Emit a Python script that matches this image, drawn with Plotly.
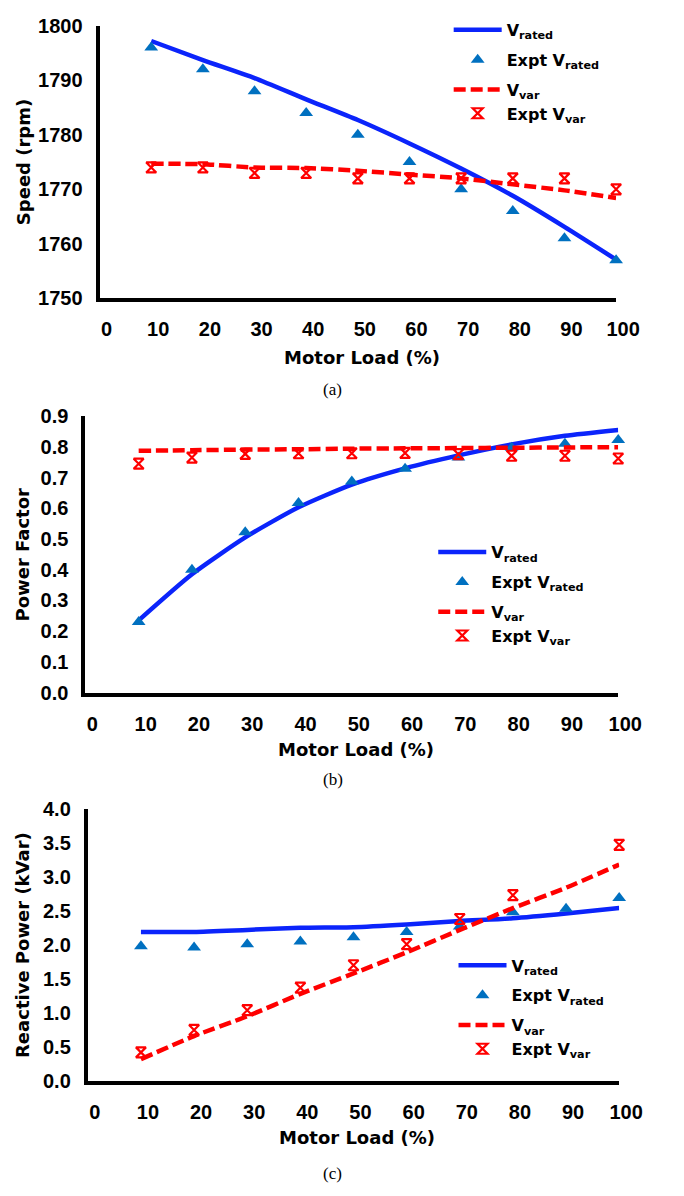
import plotly.graph_objects as go

# Motor load (%) at each test point
load = [10, 20, 30, 40, 50, 60, 70, 80, 90, 100]

# (a) Speed (rpm)
speed_vrated = [1797.2, 1793.7, 1790.4, 1786.5, 1782.7, 1778.4, 1773.8, 1768.8, 1763.1, 1757.1]
speed_expt_vrated = [1796, 1792, 1788, 1784, 1780, 1775, 1770, 1766, 1761, 1757]
speed_vvar = [1774.7, 1774.6, 1774.0, 1773.9, 1773.4, 1772.7, 1772.0, 1770.9, 1769.8, 1768.4]
speed_expt_vvar = [1774, 1774, 1773, 1773, 1772, 1772, 1772, 1772, 1772, 1770]

# (b) Power factor
pf_vrated = [0.235, 0.385, 0.505, 0.603, 0.677, 0.730, 0.772, 0.808, 0.836, 0.855]
pf_expt_vrated = [0.23, 0.40, 0.522, 0.617, 0.687, 0.729, 0.765, 0.797, 0.810, 0.822]
pf_vvar = [0.787, 0.789, 0.791, 0.792, 0.794, 0.795, 0.796, 0.797, 0.798, 0.799]
pf_expt_vvar = [0.745, 0.765, 0.777, 0.779, 0.779, 0.780, 0.776, 0.771, 0.771, 0.762]

# (c) Reactive power (kVar)
q_vrated = [2.19, 2.19, 2.22, 2.25, 2.26, 2.30, 2.35, 2.39, 2.46, 2.54]
q_expt_vrated = [1.98, 1.96, 2.01, 2.05, 2.11, 2.19, 2.27, 2.48, 2.53, 2.69]
q_vvar = [0.32, 0.66, 0.95, 1.28, 1.58, 1.89, 2.22, 2.54, 2.84, 3.18]
q_expt_vvar = [0.42, 0.75, 1.04, 1.37, 1.70, 2.01, 2.38, 2.73, None, 3.47]

x_ticks = list(range(0, 101, 10))

BLUE_LINE = "#0B24FB"
BLUE_MARK = "#0070C0"
RED = "#FF0000"

W, H = 684, 1196


def fx(px):
    return px / W


def fy(py):
    return 1 - py / H


fig = go.Figure()

panels = [
    ("x", "y", "legend", speed_vrated, speed_expt_vrated, speed_vvar, speed_expt_vvar),
    ("x2", "y2", "legend2", pf_vrated, pf_expt_vrated, pf_vvar, pf_expt_vvar),
    ("x3", "y3", "legend3", q_vrated, q_expt_vrated, q_vvar, q_expt_vvar),
]

for xa, ya, lg, v_rated, e_rated, v_var, e_var in panels:
    fig.add_trace(go.Scatter(
        x=load, y=v_rated, mode="lines", name="V<sub>rated</sub>",
        line=dict(color=BLUE_LINE, width=4.5, shape="spline", smoothing=0.6),
        xaxis=xa, yaxis=ya, legend=lg, legendgroup=lg + "a", cliponaxis=False))
    fig.add_trace(go.Scatter(
        x=load, y=e_rated, mode="markers", name="Expt V<sub>rated</sub>",
        marker=dict(symbol="triangle-up", size=12, color=BLUE_MARK),
        xaxis=xa, yaxis=ya, legend=lg, legendgroup=lg + "b", cliponaxis=False))
    fig.add_trace(go.Scatter(
        x=load, y=v_var, mode="lines", name="V<sub>var</sub>",
        line=dict(color=RED, width=4.5, dash="12px,5px", shape="spline", smoothing=0.6),
        xaxis=xa, yaxis=ya, legend=lg, legendgroup=lg + "c", cliponaxis=False))
    fig.add_trace(go.Scatter(
        x=load, y=e_var, mode="markers", name="Expt V<sub>var</sub>",
        marker=dict(symbol="hourglass-open", size=10, color=RED, line=dict(width=2.2, color=RED)),
        xaxis=xa, yaxis=ya, legend=lg, legendgroup=lg + "c", cliponaxis=False))

tick_font = dict(family="Liberation Sans", size=20, color="black", weight="bold")
title_font = dict(family="DejaVu Sans", size=18, color="black", weight="bold")
legend_font = dict(family="DejaVu Sans", size=16, color="black", weight="bold")


def x_axis(domain, anchor):
    return dict(domain=domain, anchor=anchor, range=[0, 100], tickmode="array",
                tickvals=x_ticks, ticktext=[str(v) for v in x_ticks],
                showline=True, linewidth=4, linecolor="black", showgrid=False,
                zeroline=False, ticks="", tickfont=tick_font,
                ticklabelshift=7, ticklabelstandoff=10, fixedrange=True)


def y_axis(domain, anchor, rng, dtick, fmt):
    return dict(domain=domain, anchor=anchor, range=rng, dtick=dtick, tick0=rng[0],
                tickformat=fmt, showline=True, linewidth=4, linecolor="black",
                showgrid=False, zeroline=False, ticks="", tickfont=tick_font,
                ticklabelstandoff=9, fixedrange=True)


# Plot areas: (left, right, top, bottom) in pixels
area_a = (103.2, 638.5, 15.0, 292.7)
area_b = (88.5, 640.7, 412.7, 694.3)
area_c = (91.0, 641.7, 812.7, 1090.0)

fig.update_layout(
    xaxis=x_axis([fx(area_a[0]), fx(area_a[1])], "y"),
    yaxis=y_axis([fy(area_a[3]), fy(area_a[2])], "x", [1750, 1800], 10, "d"),
    xaxis2=x_axis([fx(area_b[0]), fx(area_b[1])], "y2"),
    yaxis2=y_axis([fy(area_b[3]), fy(area_b[2])], "x2", [0, 0.9], 0.1, ".1f"),
    xaxis3=x_axis([fx(area_c[0]), fx(area_c[1])], "y3"),
    yaxis3=y_axis([fy(area_c[3]), fy(area_c[2])], "x3", [0, 4.0], 0.5, ".1f"),
)


def legend_at(px, py):
    return dict(x=fx(px), y=fy(py), xanchor="left", yanchor="top",
                bgcolor="rgba(0,0,0,0)", borderwidth=0, font=legend_font,
                traceorder="grouped", tracegroupgap=6, itemwidth=48)


fig.update_layout(
    legend=legend_at(465, 2),
    legend2=legend_at(449, 534),
    legend3=legend_at(470, 955),
)

annotations = []
# Axis titles
for text, px, py in [("Speed (rpm)", 24, (area_a[2] + area_a[3]) / 2),
                     ("Power Factor", 23, (area_b[2] + area_b[3]) / 2),
                     ("Reactive Power (kVar)", 24, (area_c[2] + area_c[3]) / 2)]:
    annotations.append(dict(text=text, x=fx(px), y=fy(py), xref="paper", yref="paper",
                            showarrow=False, textangle=-90, font=title_font,
                            xanchor="center", yanchor="middle"))
for py, area in [(353, area_a), (752.7, area_b), (1148, area_c)]:
    annotations.append(dict(text="Motor Load (%)", x=fx((area[0] + area[1]) / 2 + 4), y=fy(py),
                            xref="paper", yref="paper", showarrow=False, font=title_font,
                            xanchor="center", yanchor="middle"))
# Sub-figure captions
for text, py in [("(a)", 386), ("(b)", 783), ("(c)", 1184)]:
    annotations.append(dict(text=text, x=fx(345), y=fy(py), xref="paper", yref="paper",
                            showarrow=False,
                            font=dict(family="Liberation Serif", size=17, color="black"),
                            xanchor="center", yanchor="middle"))

fig.update_layout(
    width=W, height=H, margin=dict(l=0, r=0, t=0, b=0),
    paper_bgcolor="white", plot_bgcolor="white",
    annotations=annotations,
)

fig.write_html("out.html")
